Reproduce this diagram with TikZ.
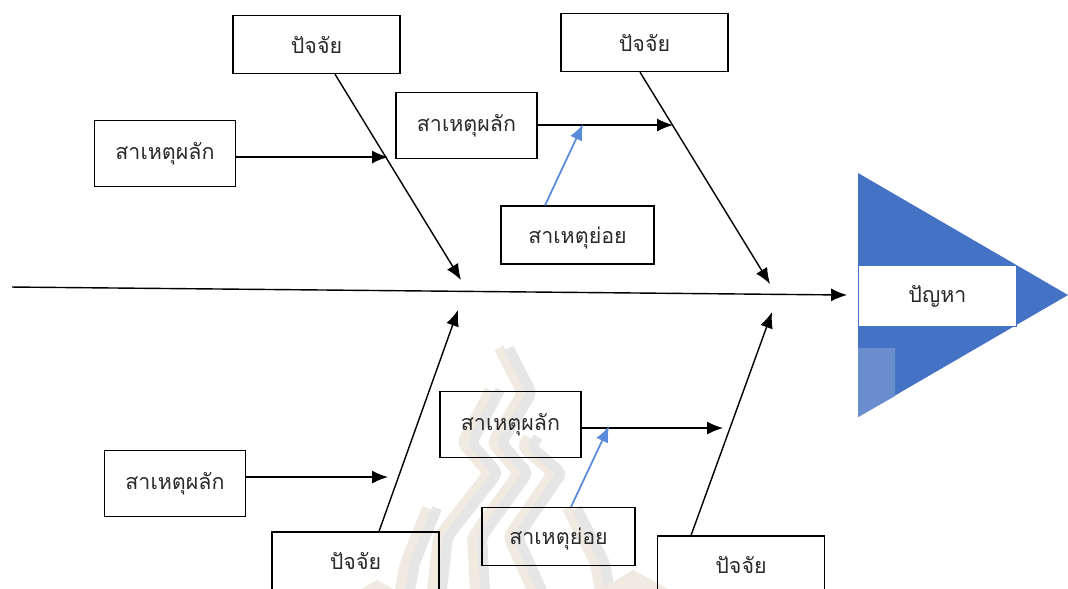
\documentclass[tikz,border=0pt]{standalone}
\usepackage{fontspec}
\newfontfamily\thaifont[Script=Thai]{Loma}
\usetikzlibrary{arrows.meta}
\definecolor{headblue}{HTML}{4472C4}
\definecolor{headlight}{HTML}{6A8DCE}
\definecolor{subblue}{HTML}{5B8BD8}
\definecolor{markbeige}{HTML}{F0EAE0}
\definecolor{markgrey}{HTML}{E6E6E6}
\definecolor{inkgrey}{HTML}{2A2A2A}

\begin{document}
\begin{tikzpicture}[scale=0.1]
        \tikzstyle{every node}+=[inner sep=0pt,font=\thaifont\fontsize{6.1}{8}\selectfont,text=inkgrey]
        \tikzstyle{factorbox}=[draw=black,line width=0.4pt,minimum width=1.67cm,minimum height=0.58cm]
        \tikzstyle{mainbox}=[draw=black,line width=0.4pt,minimum width=1.41cm,minimum height=0.66cm]
        \tikzstyle{subbox}=[draw=black,line width=0.4pt,minimum width=1.53cm,minimum height=0.58cm,text height=2mm,text depth=0.4mm]
        \tikzstyle{bone}=[black,line width=0.4pt,-{Latex[length=1.6mm,width=1.3mm]}]
        \tikzstyle{subbone}=[subblue,line width=0.5pt,-{Latex[length=1.6mm,width=1.3mm]}]
        \tikzstyle{ribbon}=[line width=1mm,rounded corners=0.5mm]
        \clip (0,0) rectangle (106.8,-58.8);
        % watermark
        \foreach \shade/\dx in {markbeige/-0.5,markgrey/0.5} {
        \begin{scope}[xshift=\dx cm]
        \draw [ribbon,\shade] (49.5,-39) -- (46.7,-44.3) -- (49.3,-47.3) -- (44.3,-53.7) -- (43.7,-59);
        \draw [ribbon,\shade] (50.4,-34.8) -- (52.7,-39.3) -- (49.7,-44.3) -- (52.3,-47.3) -- (47.7,-53.7) -- (48,-59);
        \draw [ribbon,\shade] (53.3,-43.7) -- (52.7,-44.7) -- (55.7,-47.3) -- (51.3,-53.7) -- (53.7,-59);
        \draw [ribbon,\shade] (43.2,-50.8) -- (41,-56.3) -- (40.5,-59);
        \draw [ribbon,\shade] (57.2,-50.8) -- (60,-56.3) -- (60.5,-59);
        \end{scope}
        }
        \fill [markbeige] (63.3,-57) -- (60,-59) -- (67,-59) -- cycle;
        \fill [markbeige] (37.7,-58) -- (36,-59) -- (39.5,-59) -- cycle;
        % head
        \fill [headblue] (85.8,-17.3) -- (106.8,-29.5) -- (85.8,-41.7) -- cycle;
        \fill [headlight] (85.8,-34.8) -- (89.5,-34.8) -- (89.5,-39.6) -- (85.8,-41.7) -- cycle;
        \node [draw=headblue,fill=white,line width=0.4pt,minimum width=1.58cm,minimum height=0.61cm] (problem) at (93.75,-29.6) {ปัญหา};
        % boxes
        \node [factorbox] (factorTL) at (31.65,-4.45) {ปัจจัย};
        \node [factorbox] (factorTR) at (64.45,-4.25) {ปัจจัย};
        \node [factorbox] (factorBL) at (35.55,-56.1) {ปัจจัย};
        \node [factorbox] (factorBR) at (74.1,-56.5) {ปัจจัย};
        \node [mainbox] (mainTL) at (16.5,-15.35) {สาเหตุผลัก};
        \node [mainbox] (mainTR) at (46.65,-12.55) {สาเหตุผลัก};
        \node [mainbox] (mainBL) at (17.5,-48.35) {สาเหตุผลัก};
        \node [mainbox] (mainBR) at (51.05,-42.45) {สาเหตุผลัก};
        \node [subbox] (subT) at (57.75,-23.5) {สาเหตุย่อย};
        \node [subbox] (subB) at (55.85,-53.65) {สาเหตุย่อย};
        % spine
        \coordinate (spinestart) at (1.2,-28.7);
        \coordinate (spinetip) at (84.7,-29.5);
        \draw [bone] (spinestart) -- (spinetip);
        % tips of the connectors
        \coordinate (boneTLtip) at (46.1,-28);
        \coordinate (boneTRtip) at (77,-28.4);
        \coordinate (boneBLtip) at (45.8,-31);
        \coordinate (boneBRtip) at (77.2,-31.2);
        \coordinate (mainTLtip) at (38.8,-15.7);
        \coordinate (mainTRtip) at (67.3,-12.5);
        \coordinate (mainBLtip) at (38.8,-47.7);
        \coordinate (mainBRtip) at (72.3,-42.8);
        \coordinate (subTtip) at (58.3,-12.4);
        \coordinate (subBtip) at (60.9,-42.6);
        % connectors
        \draw [bone] ([xshift=1.85cm]factorTL.south) -- (boneTLtip);
        \draw [bone] ([xshift=-0.45cm]factorTR.south) -- (boneTRtip);
        \draw [bone] ([xshift=2.35cm]factorBL.north) -- (boneBLtip);
        \draw [bone] ([xshift=-5cm]factorBR.north) -- (boneBRtip);
        \draw [bone] (mainTL.east |- mainTLtip) -- (mainTLtip);
        \draw [bone] (mainTR.east |- mainTRtip) -- (mainTRtip);
        \draw [bone] (mainBL.east |- mainBLtip) -- (mainBLtip);
        \draw [bone] (mainBR.east |- mainBRtip) -- (mainBRtip);
        \draw [subbone] ([xshift=-3.25cm]subT.north) -- (subTtip);
        \draw [subbone] ([xshift=1.25cm]subB.north) -- (subBtip);
        \end{tikzpicture}
\end{document}
